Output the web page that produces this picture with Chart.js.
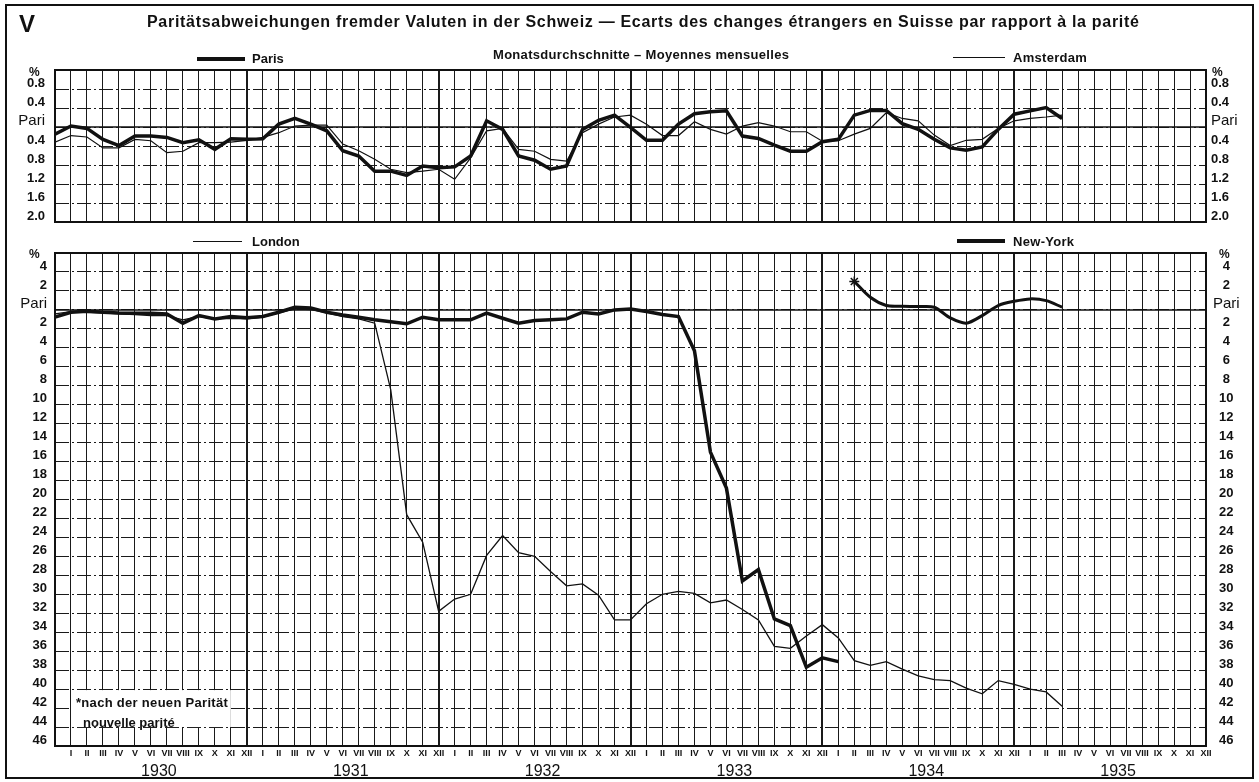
<!DOCTYPE html>
<html>
<head>
<meta charset="utf-8">
<title>Paritätsabweichungen fremder Valuten</title>
<script src="https://cdn.jsdelivr.net/npm/chart.js@4.4.1/dist/chart.umd.min.js"></script>
<style>
	body { margin: 0; background: #fff; }
	#blatt { position: relative; width: 1259px; height: 782px; overflow: hidden; background: #fff;
		font-family: 'Liberation Sans', Arial, sans-serif; color: #111; }
	#blatt canvas { position: absolute; left: 0; }
	.txt { position: absolute; white-space: nowrap; font-weight: bold; line-height: 1; }
	.strich { position: absolute; background: #111; }
	#rahmen { position: absolute; left: 5px; top: 4px; width: 1245px; height: 771px; border: 2px solid #111; }
</style>
</head>
<body>
<div id="blatt">
	<div id="rahmen"></div>
	<canvas id="graficoOben" width="1259" height="240" style="top:0"></canvas>
	<canvas id="graficoUnten" width="1259" height="552" style="top:230px"></canvas>

	<div class="txt" style="left:19px;top:12px;font-size:24px">V</div>
	<div class="txt" style="left:147px;top:14px;font-size:16px;letter-spacing:0.7px">Paritätsabweichungen fremder Valuten in der Schweiz — Ecarts des changes étrangers en Suisse par rapport à la parité</div>
	<div class="txt" style="left:493px;top:48px;font-size:13px;letter-spacing:0.3px">Monatsdurchschnitte – Moyennes mensuelles</div>

	<div class="strich" style="left:197px;top:57px;width:48px;height:4px"></div>
	<div class="txt" style="left:252px;top:52px;font-size:13px">Paris</div>
	<div class="strich" style="left:953px;top:57px;width:52px;height:1px"></div>
	<div class="txt" style="left:1013px;top:51px;font-size:13px;letter-spacing:0.3px">Amsterdam</div>
	<div class="strich" style="left:193px;top:241px;width:49px;height:1px"></div>
	<div class="txt" style="left:252px;top:235px;font-size:13px">London</div>
	<div class="strich" style="left:957px;top:239px;width:48px;height:4px"></div>
	<div class="txt" style="left:1013px;top:235px;font-size:13px;letter-spacing:0.3px">New-York</div>

	<div class="txt" style="left:29px;top:66px;font-size:12px">%</div>
	<div class="txt" style="left:1212px;top:66px;font-size:12px">%</div>
	<div class="txt" style="left:29px;top:248px;font-size:12px">%</div>
	<div class="txt" style="left:1219px;top:248px;font-size:12px">%</div>

	<div class="txt" style="left:76px;top:696px;font-size:13px;letter-spacing:0.3px">*nach der neuen Parität</div>
	<div class="txt" style="left:83px;top:716px;font-size:13px">nouvelle parité</div>
</div>

<script>
// Abweichung von der Parität in %, ein Wert je Monat.
// Index 0 = Dez. 1929 (linker Rand), 1 = Jan. 1930 ... 63 = März 1935
var parisData = [
	-0.15, 0.02, -0.03, -0.26, -0.39, -0.19, -0.19, -0.22, -0.33, -0.27, -0.47, -0.25, -0.26,
	-0.25, 0.06, 0.18, 0.06, -0.08, -0.50, -0.61, -0.93, -0.93, -1.02, -0.82, -0.86,
	-0.84, -0.61, 0.13, -0.05, -0.61, -0.70, -0.89, -0.82, -0.05, 0.14, 0.25, -0.01,
	-0.28, -0.28, 0.06, 0.28, 0.32, 0.34, -0.19, -0.24, -0.38, -0.51, -0.51, -0.31,
	-0.26, 0.25, 0.35, 0.35, 0.07, -0.05, -0.26, -0.44, -0.49, -0.42, -0.05, 0.27,
	0.34, 0.41, 0.18
];
var amsterdamData = [
	-0.32, -0.18, -0.21, -0.44, -0.44, -0.26, -0.29, -0.54, -0.51, -0.33, -0.33, -0.32, -0.28,
	-0.22, -0.12, 0.02, 0.04, 0.04, -0.36, -0.50, -0.68, -0.89, -0.96, -0.93, -0.89,
	-1.10, -0.65, -0.08, -0.03, -0.47, -0.51, -0.68, -0.72, -0.12, 0.06, 0.21, 0.25,
	0.06, -0.18, -0.18, 0.11, -0.05, -0.15, 0.02, 0.09, 0.02, -0.10, -0.10, -0.30,
	-0.29, -0.15, -0.03, 0.30, 0.18, 0.13, -0.17, -0.39, -0.28, -0.26, -0.03, 0.13,
	0.18, 0.21, 0.25
];
var londonData = [
	-0.42, -0.18, -0.25, -0.32, -0.42, -0.49, -0.60, -0.60, -1.05, -0.70, -0.95, -0.88, -0.95,
	-0.77, -0.32, 0.10, 0.03, -0.32, -0.70, -0.95, -1.40, -8.4, -21.6, -24.5, -31.8,
	-30.5, -30.0, -25.9, -23.8, -25.6, -26.0, -27.6, -29.1, -28.9, -30.1, -32.7, -32.7,
	-31.0, -30.0, -29.7, -29.9, -30.9, -30.6, -31.6, -32.7, -35.5, -35.7, -34.4, -33.2,
	-34.6, -37.0, -37.5, -37.1, -37.9, -38.6, -39.0, -39.1, -39.9, -40.5, -39.1, -39.5,
	-40.0, -40.3, -41.8
];
// New-York, alte Parität bis Jan. 1934
var newYorkData = [
	-0.77, -0.25, -0.14, -0.25, -0.32, -0.35, -0.35, -0.42, -1.40, -0.60, -0.95, -0.70, -0.84,
	-0.70, -0.25, 0.28, 0.21, -0.25, -0.53, -0.77, -1.05, -1.25, -1.47, -0.77, -1.05,
	-1.05, -1.05, -0.35, -0.88, -1.40, -1.12, -1.05, -0.95, -0.25, -0.42, 0.00, 0.10,
	-0.18, -0.49, -0.70, -4.3, -15.0, -18.8, -28.6, -27.4, -32.6, -33.3, -37.7, -36.7,
	-37.1
];
// New-York, neue Parität ab Feb. 1934 (*)
var newYorkNeuData = [3.0, 1.33, 0.46, 0.39, 0.35, 0.28, -0.84, -1.40, -0.60, 0.46, 0.91, 1.16, 0.98, 0.28];
var newYorkNeuStart = 50;

var monthLabels = ['I', 'II', 'III', 'IV', 'V', 'VI', 'VII', 'VIII', 'IX', 'X', 'XI', 'XII'];
var yearLabels = ['1930', '1931', '1932', '1933', '1934', '1935'];
var topTickValues = [1.2, 0.8, 0.4, 0, -0.4, -0.8, -1.2, -1.6, -2.0];
var bottomTickValues = [6, 4, 2, 0, -2, -4, -6, -8, -10, -12, -14, -16, -18, -20, -22, -24,
	-26, -28, -30, -32, -34, -36, -38, -40, -42, -44, -46];

var Valuten = Valuten || {};

Valuten.stil = {
	schwarz: '#111',
	gitter: '#1a1a1a',
	schrift: "'Liberation Sans', Arial, sans-serif",
	schmal: "'Liberation Sans Narrow', 'Liberation Sans', Arial, sans-serif"
};

Valuten.hilfe = (function() {

	function punkte(werte, start) {
		return werte.map(function(v, i) {
			return { x: start + i, y: v };
		});
	}

	function festeTicks(werte) {
		return function(scale) {
			scale.ticks = werte.map(function(v) { return { value: v }; });
		};
	}

	function monatsTicks(scale) {
		var t = [];
		for (var i = 0; i <= yearLabels.length * 12; i++) {
			t.push({ value: i });
		}
		scale.ticks = t;
	}

	function yText(oben) {
		return function(v) {
			if (v === oben) return '';
			if (Math.abs(v) < 1e-9) return 'Pari';
			var a = Math.abs(v);
			return oben < 2 ? a.toFixed(1) : String(Math.round(a));
		};
	}

	function yFont(ctx) {
		if (ctx.tick && Math.abs(ctx.tick.value) < 1e-9) {
			return { family: Valuten.stil.schmal, size: 15, weight: 'normal' };
		}
		return { family: Valuten.stil.schrift, size: 13, weight: 'bold' };
	}

	function xAchse(beschriftet) {
		return {
			type: 'linear',
			min: 0,
			max: yearLabels.length * 12,
			afterBuildTicks: monatsTicks,
			afterFit: function(s) { s.height = beschriftet ? 14 : 0; },
			grid: {
				color: Valuten.stil.gitter,
				drawTicks: false,
				lineWidth: function(ctx) {
					return ctx.tick && ctx.tick.value % 12 === 0 ? 2 : 1;
				}
			},
			border: { display: false },
			ticks: {
				display: beschriftet,
				autoSkip: false,
				maxRotation: 0,
				minRotation: 0,
				padding: 2,
				color: Valuten.stil.schwarz,
				font: { family: Valuten.stil.schmal, size: 9, weight: 'bold' },
				callback: function(v) {
					return v === 0 ? '' : monthLabels[(v - 1) % 12];
				}
			}
		};
	}

	function yAchse(werte, rechts, breite, pad, ausrichtung) {
		return {
			type: 'linear',
			position: rechts ? 'right' : 'left',
			min: werte[werte.length - 1],
			max: werte[0],
			afterBuildTicks: festeTicks(werte),
			afterFit: function(s) { s.width = breite; },
			grid: {
				display: !rechts,
				color: Valuten.stil.gitter,
				lineWidth: 1,
				drawTicks: false,
				tickLength: 0
			},
			border: { display: false, dash: [14, 3, 2, 3] },
			ticks: {
				autoSkip: false,
				padding: pad,
				labelOffset: -6,
				crossAlign: ausrichtung,
				color: Valuten.stil.schwarz,
				font: yFont,
				callback: yText(werte[0])
			}
		};
	}

	// Pari-Linie und Rahmen des Diagramms
	var rahmenPlugin = {
		id: 'rahmen',
		beforeDatasetsDraw: function(chart) {
			var c = chart.ctx, a = chart.chartArea;
			var y0 = chart.scales.y.getPixelForValue(0);
			c.save();
			c.strokeStyle = Valuten.stil.schwarz;
			c.lineWidth = 1.5;
			c.beginPath();
			c.moveTo(a.left, y0);
			c.lineTo(a.right, y0);
			c.stroke();
			c.restore();
		},
		afterDraw: function(chart) {
			var c = chart.ctx, a = chart.chartArea;
			c.save();
			c.strokeStyle = Valuten.stil.schwarz;
			c.lineWidth = 2;
			c.strokeRect(a.left, a.top, a.right - a.left, a.bottom - a.top);
			c.restore();
		}
	};

	// weisses Feld fuer die Anmerkung unten links
	var notizPlugin = {
		id: 'notiz',
		beforeDatasetsDraw: function(chart) {
			var x = chart.scales.x, y = chart.scales.y;
			var l = x.getPixelForValue(1) + 1, r = x.getPixelForValue(11);
			var t = y.getPixelForValue(-40) + 1, b = y.getPixelForValue(-44);
			chart.ctx.save();
			chart.ctx.fillStyle = '#fff';
			chart.ctx.fillRect(l, t, r - l, b - t);
			chart.ctx.restore();
		}
	};

	return {
		punkte: punkte,
		xAchse: xAchse,
		yAchse: yAchse,
		rahmenPlugin: rahmenPlugin,
		notizPlugin: notizPlugin
	};

}());

Valuten.GraficoOben = (function() {

	function GraficoOben() {
		this.ctx = document.getElementById('graficoOben').getContext('2d');
	}

	GraficoOben.prototype.iniciar = function() {
		var h = Valuten.hilfe;
		new Chart(this.ctx, {
			type: 'line',
			data: {
				datasets: [{
					label: 'Paris',
					data: h.punkte(parisData, 0),
					borderColor: Valuten.stil.schwarz,
					borderWidth: 3.5,
					pointRadius: 0,
					tension: 0
				}, {
					label: 'Amsterdam',
					data: h.punkte(amsterdamData, 0),
					borderColor: Valuten.stil.schwarz,
					borderWidth: 1.2,
					pointRadius: 0,
					tension: 0
				}]
			},
			options: {
				responsive: false,
				animation: false,
				layout: { padding: { top: 70, bottom: 18, left: 0, right: 0 } },
				plugins: { legend: { display: false }, tooltip: { enabled: false } },
				scales: {
					x: h.xAchse(false),
					y: h.yAchse(topTickValues, false, 55, 10, 'near'),
					yRechts: h.yAchse(topTickValues, true, 53, 5, 'near')
				}
			},
			plugins: [h.rahmenPlugin]
		});
	};

	return GraficoOben;

}());

Valuten.GraficoUnten = (function() {

	function GraficoUnten() {
		this.ctx = document.getElementById('graficoUnten').getContext('2d');
	}

	GraficoUnten.prototype.iniciar = function() {
		var h = Valuten.hilfe;
		var jahrAchse = {
			type: 'linear',
			position: 'bottom',
			weight: 1,
			min: 0,
			max: yearLabels.length * 12,
			afterBuildTicks: function(scale) {
				scale.ticks = yearLabels.map(function(j, k) { return { value: k * 12 + 6.5 }; });
			},
			afterFit: function(s) { s.height = 20; },
			grid: { display: false, drawTicks: false },
			border: { display: false },
			ticks: {
				autoSkip: false,
				maxRotation: 0,
				padding: 2,
				color: Valuten.stil.schwarz,
				font: { family: Valuten.stil.schrift, size: 16 },
				callback: function(v) {
					return yearLabels[Math.round((v - 6.5) / 12)];
				}
			}
		};

		new Chart(this.ctx, {
			type: 'line',
			data: {
				datasets: [{
					label: 'London',
					data: h.punkte(londonData, 0),
					borderColor: Valuten.stil.schwarz,
					borderWidth: 1.3,
					pointRadius: 0,
					tension: 0
				}, {
					label: 'New-York',
					data: h.punkte(newYorkData, 0),
					borderColor: Valuten.stil.schwarz,
					borderWidth: 3.5,
					pointRadius: 0,
					tension: 0
				}, {
					label: 'New-York *',
					data: h.punkte(newYorkNeuData, newYorkNeuStart),
					borderColor: Valuten.stil.schwarz,
					borderWidth: 3,
					tension: 0.3,
					pointStyle: 'star',
					pointBorderWidth: 1.5,
					pointBorderColor: Valuten.stil.schwarz,
					pointRadius: function(ctx) { return ctx.dataIndex === 0 ? 5 : 0; }
				}]
			},
			options: {
				responsive: false,
				animation: false,
				layout: { padding: { top: 23, bottom: 2, left: 0, right: 0 } },
				plugins: { legend: { display: false }, tooltip: { enabled: false } },
				scales: {
					x: h.xAchse(true),
					jahre: jahrAchse,
					y: h.yAchse(bottomTickValues, false, 55, 8, 'near'),
					yRechts: h.yAchse(bottomTickValues, true, 53, 7, 'center')
				}
			},
			plugins: [h.rahmenPlugin, h.notizPlugin]
		});
	};

	return GraficoUnten;

}());

(function() {
	var oben = new Valuten.GraficoOben();
	oben.iniciar();

	var unten = new Valuten.GraficoUnten();
	unten.iniciar();
}());
</script>
</body>
</html>
